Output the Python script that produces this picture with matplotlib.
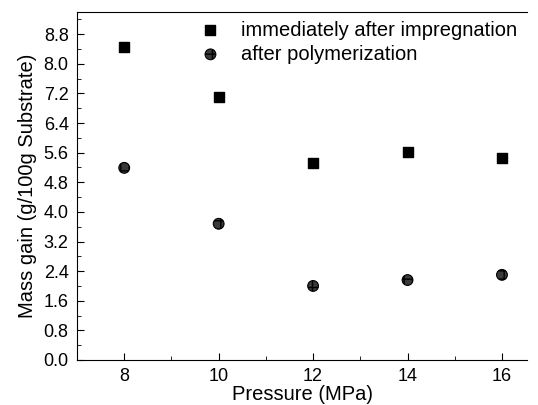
import matplotlib.pyplot as plt
from matplotlib.ticker import MultipleLocator

# data
pressure = [8, 10, 12, 14, 16]
impregnation = [8.46, 7.11, 5.32, 5.62, 5.46]
polymerization = [5.19, 3.68, 2.00, 2.16, 2.30]

plt.rcParams['font.family'] = ['Liberation Sans', 'DejaVu Sans']
plt.rcParams['font.size'] = 13

fig = plt.figure(figsize=(5.38, 4.05), dpi=100)
ax = fig.add_axes([77 / 538, 45 / 405, 450 / 538, 348 / 405])

ax.scatter(pressure, impregnation, marker='s', s=60, color='black',
           label='immediately after impregnation')
ax.scatter(pressure, polymerization, marker='o', s=60, facecolor='#3a3a3a',
           edgecolor='black', hatch='++', linewidth=0.8,
           label='after polymerization')

ax.set_xlim(7.0, 16.53)
ax.set_ylim(0, 9.4)
ax.xaxis.set_major_locator(MultipleLocator(2))
ax.xaxis.set_minor_locator(MultipleLocator(1))
ax.yaxis.set_major_locator(MultipleLocator(0.8))
ax.yaxis.set_minor_locator(MultipleLocator(0.4))
ax.yaxis.set_major_formatter(plt.FormatStrFormatter('%.1f'))
ax.tick_params(which='both', direction='in', top=False, right=False)
ax.tick_params(which='major', length=5, pad=6)
ax.tick_params(which='minor', length=3)
ax.spines['right'].set_visible(False)

ax.set_xlabel('Pressure (MPa)', fontsize=14.5, labelpad=0)
ax.set_ylabel('Mass gain (g/100g Substrate)', fontsize=14.5, labelpad=5)
ax.legend(loc='upper left', bbox_to_anchor=(0.225, 1.01), frameon=False,
          fontsize=14.5, handletextpad=0.5, borderaxespad=0.2,
          labelspacing=0.25)

fig.savefig('out.png', dpi=100)
